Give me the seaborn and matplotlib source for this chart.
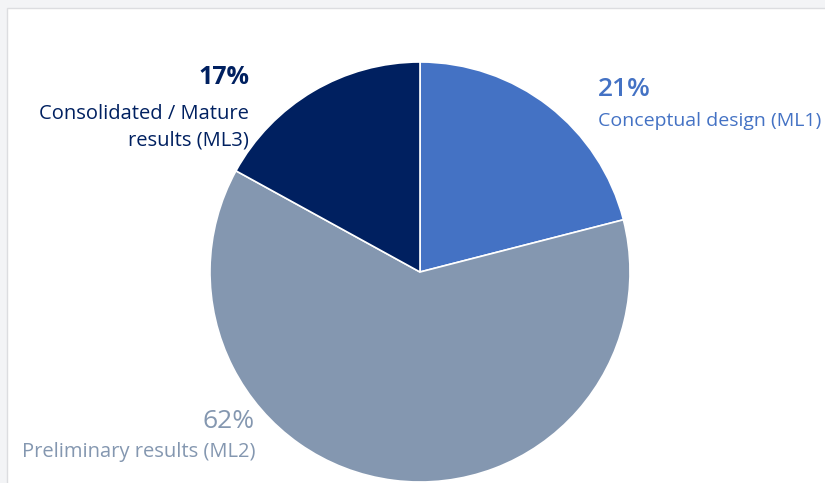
import matplotlib
matplotlib.use("Agg")
import matplotlib.pyplot as plt
import seaborn as sns
from matplotlib.patches import Rectangle

# maturity levels, clockwise from the top
labels = ['Conceptual design (ML1)', 'Preliminary results (ML2)',
          'Consolidated / Mature\nresults (ML3)']
shares = [21, 62, 17]
colors = ['#4472c4', '#8497b0', '#002060']

sns.set_theme(style='white')
plt.rcParams['font.family'] = ['Open Sans', 'DejaVu Sans']

W, H = 825, 483
fig = plt.figure(figsize=(W / 100, H / 100), dpi=100)
fig.patch.set_facecolor('#f3f4f6')

# white card like the screenshot
fig.patches.append(Rectangle((7 / W, -0.1), 1, 1.1 - 8 / H, transform=fig.transFigure,
                             facecolor='white', edgecolor='#dcdde0', lw=1.0,
                             zorder=-5))

ax = fig.add_axes([210 / W, 1 / H, 420 / W, 420 / H])
ax.set_zorder(2)
ax.patch.set_alpha(0)
wedges, _ = ax.pie(shares, colors=colors, startangle=90, counterclock=False,
                   wedgeprops=dict(edgecolor='white', linewidth=1.2))
for w in wedges:
    w.set_clip_on(False)
ax.set_xlim(-1, 1)
ax.set_ylim(-1, 1)
ax.set_aspect('equal')
ax.axis('off')


def px(x, y):
    return x / W, 1 - y / H


# ML1
fig.text(*px(598, 89), f'{shares[0]}%', color=colors[0], fontsize=19,
         fontweight='semibold', ha='left', va='center')
fig.text(*px(598, 121), labels[0], color=colors[0], fontsize=14,
         ha='left', va='center')
# ML3
fig.text(*px(249, 78), f'{shares[2]}%', color=colors[2], fontsize=18,
         fontweight='bold', ha='right', va='center')
fig.text(*px(249, 127), labels[2], color=colors[2], fontsize=14.5,
         ha='right', va='center', linespacing=1.45)
# ML2
fig.text(*px(255, 421), f'{shares[1]}%', color=colors[1], fontsize=19,
         ha='right', va='center')
fig.text(*px(255, 452), labels[1], color=colors[1], fontsize=14.5,
         ha='right', va='center')

fig.savefig('out.png', dpi=100, facecolor=fig.get_facecolor())
